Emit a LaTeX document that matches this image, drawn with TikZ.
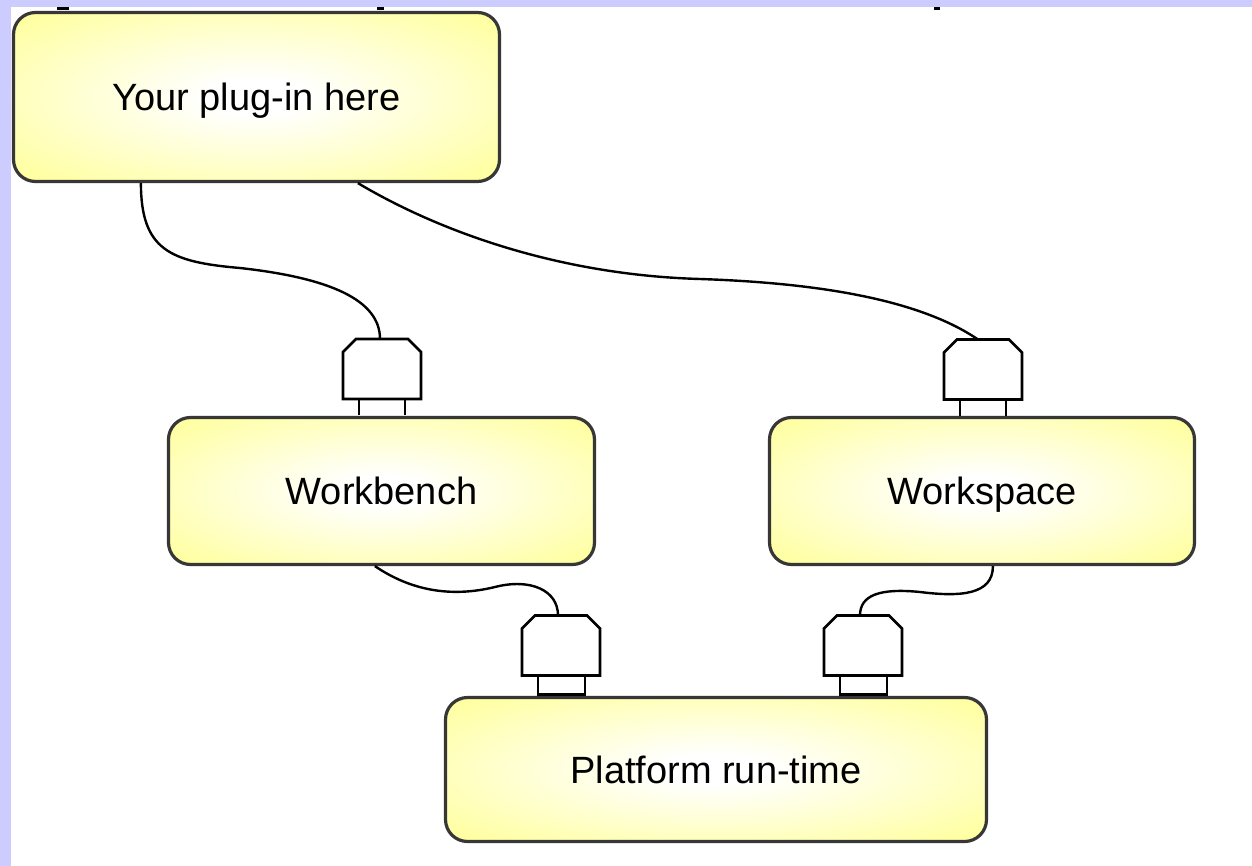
\documentclass[tikz,border=0pt]{standalone}
\usepackage{fontspec}
\setmainfont{Liberation Sans}
\usetikzlibrary{calc}
\definecolor{lav}{RGB}{204,204,255}
\definecolor{yel}{RGB}{255,255,145}
\definecolor{edgegray}{RGB}{55,55,55}
\pgfdeclareradialshading{boxshade}{\pgfpoint{0bp}{0bp}}{color(0bp)=(white); color(5bp)=(white); color(38bp)=(yel); color(50bp)=(yel)}
\newcommand\plugshape[1]{%
  \filldraw[plugline] (#1.south west) -- ($(#1.north west)+(0,13)$) -- ($(#1.north west)+(13,0)$)
    -- ($(#1.north east)+(-13,0)$) -- ($(#1.north east)+(0,13)$) -- (#1.south east) -- cycle;}
\begin{document}
\begin{tikzpicture}[x=0.5pt, y=-0.5pt,
  box/.style={draw=edgegray, line width=1.6pt, rounded corners=11pt, shading=boxshade,
    font=\fontsize{19}{23}\selectfont, inner sep=0pt, text height=18pt, text depth=4.4pt},
  plug/.style={draw=none, minimum width=39pt, minimum height=30pt, inner sep=0pt, outer sep=0pt},
  plugline/.style={draw=black, fill=white, line width=1.4pt, line join=miter},
  prong/.style={draw=black, line width=1.4pt},
  wire/.style={draw=black, line width=1.2pt}]
\useasboundingbox (0,0) rectangle (1252,866);
\fill[white] (0,0) rectangle (1252,866);
\fill[lav] (0,0) rectangle (1252,7);
\fill[lav] (0,0) rectangle (11,866);
\fill[black] (57,7) rectangle (69,10);
\fill[black] (377,7) rectangle (384,10);
\fill[black] (934,7) rectangle (940,10);

% boxes
\node[box, minimum width=243pt, minimum height=84.5pt] (plugin) at (256.5,97) {Your plug-in here};
\node[box, minimum width=213pt, minimum height=73.5pt] (wb) at (381.5,491) {Workbench};
\node[box, minimum width=212.5pt, minimum height=73.5pt] (ws) at (982,491) {Workspace};
\node[box, minimum width=270.5pt, minimum height=72pt] (rt) at (716,769.5) {Platform run-time};

% plugs
\node[plug] (p1) at (382,369) {};
\node[plug] (p2) at (983,369.5) {};
\node[plug] (p3) at (561,645.5) {};
\node[plug] (p4) at (863,645.5) {};
\plugshape{p1}
\plugshape{p2}
\plugshape{p3}
\plugshape{p4}

% prongs
\draw[prong] (p1.south) ++(-23,0) -- +(0,16);
\draw[prong] (p1.south) ++(23,0) -- +(0,16);
\draw[prong] (p2.south) ++(-23,0) -- +(0,16);
\draw[prong] (p2.south) ++(23,0) -- +(0,16);
\draw[prong] (p3.south) ++(-23,0) rectangle +(47,19);
\draw[prong] (p4.south) ++(-23,0) rectangle +(47,19);

% wire end points
\coordinate (w1a) at ($(plugin.south west)+(129,0)$);
\coordinate (w2a) at ($(plugin.south west)+(346,0)$);
\coordinate (w3a) at ($(wb.south west)+(208,0)$);
\coordinate (w4a) at ($(ws.south west)+(225,0)$);

\draw[wire] (w1a) .. controls (141,250) and (170,262) .. (240,268)
  .. controls (330,278) and (380,300) .. ([xshift=-1pt]p1.north);
\draw[wire] (w2a) .. controls (440,232) and (560,275) .. (700,279)
  .. controls (820,283) and (920,300) .. ([xshift=-2.5pt]p2.north);
\draw[wire] (w3a) .. controls (410,590) and (450,598) .. (495,587)
  .. controls (530,578) and (558,590) .. ([xshift=-1.5pt]p3.north);
\draw[wire] (w4a) .. controls (993,595) and (960,597) .. (920,592)
  .. controls (880,588) and (860,595) .. ([xshift=-1.5pt]p4.north);
\end{tikzpicture}
\end{document}
